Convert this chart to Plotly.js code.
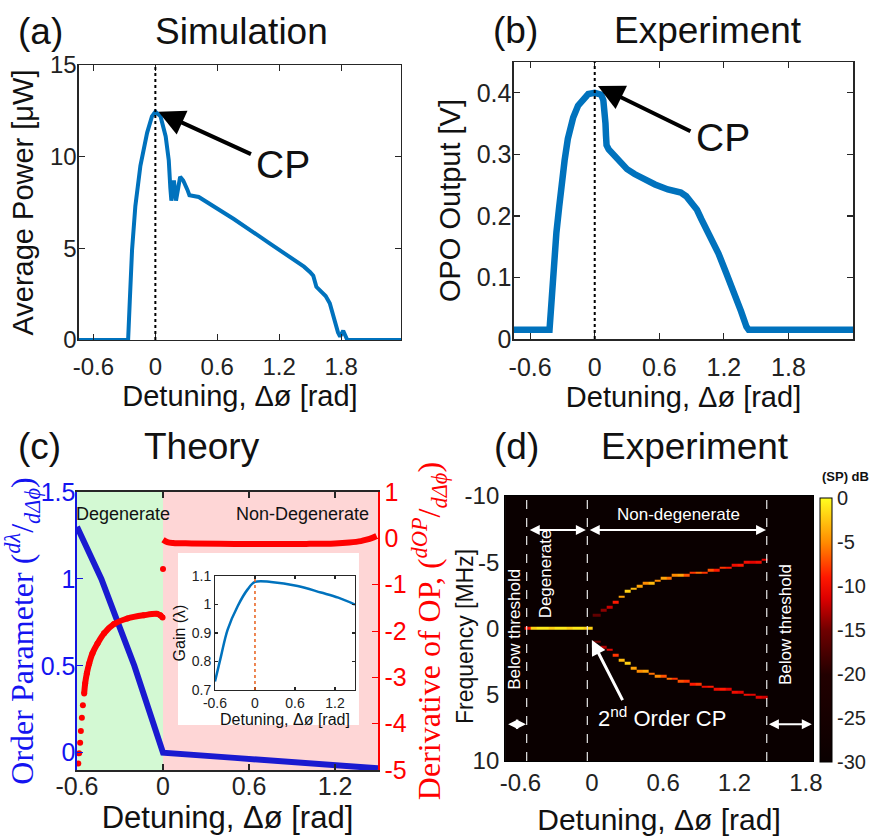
<!DOCTYPE html>
<html>
<head>
<meta charset="utf-8">
<script src="https://cdn.plot.ly/plotly-3.0.1.min.js"></script>
<style>html,body{margin:0;padding:0;background:#fff;}#chart{width:870px;height:839px;}</style>
</head>
<body>
<div id="chart"></div>
<script>
// ---------- Panel (a) Simulation ----------
var simX = [-0.74, -0.264, -0.248, -0.226, -0.194, -0.145, -0.08, -0.033, 0.0, 0.05, 0.1, 0.13, 0.145, 0.155, 0.18, 0.2, 0.24, 0.27, 0.31, 0.33, 0.42, 0.76, 1.1, 1.44, 1.5, 1.53, 1.56, 1.65, 1.69, 1.73, 1.77, 1.79, 1.82, 1.86, 2.38];
var simY = [0, 0, 2.1, 4.9, 7.3, 9.5, 11.3, 12.2, 12.45, 12.2, 11.1, 9.8, 8.3, 7.6, 8.7, 7.6, 8.9, 8.7, 8.2, 7.9, 7.8, 6.6, 5.3, 4.0, 3.7, 3.5, 2.9, 2.4, 2.0, 1.1, 0.4, 0.18, 0.5, 0, 0];

// ---------- Panel (b) Experiment ----------
var expX = [-0.75, -0.42, -0.40, -0.38, -0.356, -0.33, -0.31, -0.28, -0.25, -0.2, -0.155, -0.1, -0.06, 0.0, 0.03, 0.06, 0.08, 0.095, 0.1, 0.105, 0.11, 0.13, 0.155, 0.2, 0.25, 0.3, 0.37, 0.45, 0.56, 0.68, 0.8, 0.85, 0.9, 0.95, 0.99, 1.07, 1.15, 1.22, 1.3, 1.36, 1.41, 1.43, 2.4];
var expY = [0.015, 0.015, 0.064, 0.12, 0.173, 0.215, 0.249, 0.29, 0.325, 0.36, 0.379, 0.392, 0.398, 0.400, 0.399, 0.397, 0.388, 0.37, 0.35, 0.33, 0.315, 0.308, 0.303, 0.293, 0.282, 0.276, 0.268, 0.26, 0.251, 0.243, 0.238, 0.232, 0.222, 0.21, 0.195, 0.168, 0.139, 0.108, 0.074, 0.045, 0.02, 0.015, 0.015];

// ---------- Panel (c) Theory ----------
var opX = [-0.6, -0.52, -0.43, -0.32, -0.2, -0.1, 0.0, 0.0, 0.5, 1.0, 1.5];
var opY = [1.30, 1.15, 1.0, 0.76, 0.5, 0.25, 0.0, 0.0, -0.03, -0.06, -0.09];
var derLeftX = [-0.591, -0.585, -0.578, -0.573, -0.566, -0.559, -0.550, -0.543, -0.531, -0.515, -0.492, -0.457, -0.411, -0.342, -0.249, -0.134, -0.042, -0.019, -0.003];
var derLeftY = [-4.86, -4.64, -4.41, -4.16, -3.87, -3.60, -3.35, -3.13, -2.91, -2.70, -2.48, -2.27, -2.05, -1.85, -1.73, -1.66, -1.63, -1.66, -1.71];
var derJumpX = [0.0];
var derJumpY = [-0.66];
var derRightX = [0.0, 0.03, 0.07, 0.2, 0.5, 0.8, 1.0, 1.2, 1.3, 1.38, 1.42, 1.46, 1.49];
var derRightY = [-0.03, -0.08, -0.10, -0.11, -0.12, -0.12, -0.12, -0.11, -0.09, -0.06, -0.03, 0.01, 0.05];
// inset: gain
var gainX = [-0.6, -0.51, -0.41, -0.26, -0.11, 0.0, 0.24, 0.64, 0.99, 1.25, 1.5];
var gainY = [0.73, 0.818, 0.912, 0.994, 1.053, 1.079, 1.079, 1.065, 1.042, 1.024, 1.0];

// ---------- Panel (d) Experiment spectrogram ----------
var degX = [-0.54, -0.49, -0.44, -0.39, -0.34, -0.29, -0.24, -0.19, -0.14, -0.09, -0.04];
var degF = [0, 0, 0, 0, 0, 0, 0, 0, 0, 0, 0];
var degI = [-10, -2, -1, -1, -2, -1, -1, -2, -1, -1, -2];
var ndX = [0.05, 0.1, 0.15, 0.2, 0.25, 0.3, 0.35, 0.4, 0.45, 0.5, 0.55, 0.6, 0.65, 0.7, 0.75, 0.8, 0.85, 0.9, 0.95, 1.0, 1.05, 1.1, 1.15, 1.2, 1.25, 1.3, 1.35, 1.4, 1.45];
var upF = [-0.9, -1.3, -1.7, -2.1, -2.5, -2.8, -3.0, -3.2, -3.35, -3.5, -3.6, -3.7, -3.8, -3.9, -3.95, -4.05, -4.15, -4.25, -4.3, -4.4, -4.5, -4.6, -4.65, -4.75, -4.85, -4.9, -5.0, -5.1, -5.2];
var upI = [-16, -14, -12, -9, -4, -2, -3, -4, -5, -3, -5, -4, -6, -5, -4, -7, -8, -6, -8, -7, -9, -8, -9, -10, -9, -10, -11, -10, -11];
var downF = [1.0, 1.3, 1.7, 2.0, 2.4, 2.7, 2.9, 3.1, 3.25, 3.4, 3.55, 3.65, 3.75, 3.85, 3.95, 4.05, 4.15, 4.25, 4.3, 4.4, 4.5, 4.6, 4.7, 4.8, 4.85, 4.95, 5.0, 5.1, 5.2];
var downI = [-15, -13, -11, -8, -3, -2, -4, -5, -4, -6, -5, -7, -6, -8, -7, -8, -9, -8, -10, -9, -10, -9, -11, -10, -11, -10, -11, -11, -12];

// ticks
var detTicks = [-0.6, 0, 0.6, 1.2, 1.8];
var detTickText = ['-0.6', '0', '0.6', '1.2', '1.8'];
var simYTicks = [0, 5, 10, 15];
var expYTicks = [0, 0.1, 0.2, 0.3, 0.4];
var opTicks = [0, 0.5, 1, 1.5];
var derTicks = [1, 0, -1, -2, -3, -4, -5];
var gainTicks = [0.7, 0.8, 0.9, 1, 1.1];
var freqTicks = [-10, -5, 0, 5, 10];
var cbTicks = [0, -5, -10, -15, -20, -25, -30];

// ---------- build heatmap table ----------
var hmX = degX.concat(ndX);
var fY0 = -10, fDy = 0.2, nRows = 101;
var hmZ = [];
for (var r = 0; r < nRows; r++) { var row = []; for (var c = 0; c < hmX.length; c++) row.push(null); hmZ.push(row); }
function putCell(col, f, v) { var r = Math.round((f - fY0) / fDy); if (r >= 0 && r < nRows) hmZ[r][col] = v; }
degX.forEach(function (x, i) { putCell(i, degF[i], degI[i]); });
ndX.forEach(function (x, i) { putCell(degX.length + i, upF[i], upI[i]); putCell(degX.length + i, downF[i], downI[i]); });

var FONT = 'Liberation Sans, Arial, Helvetica, sans-serif';
var SERIF = 'Liberation Serif, Times New Roman, serif';
var BLUE = '#0072BD';
var AX = '#262626';

var traces = [
  {x: simX, y: simY, xaxis: 'x', yaxis: 'y', mode: 'lines', line: {color: BLUE, width: 4}, hoverinfo: 'skip'},
  {x: expX, y: expY, xaxis: 'x2', yaxis: 'y2', mode: 'lines', line: {color: BLUE, width: 6.5}, hoverinfo: 'skip'},
  {x: opX, y: opY, xaxis: 'x3', yaxis: 'y3', mode: 'lines', line: {color: '#1a1ad0', width: 6}, hoverinfo: 'skip'},
  {x: derLeftX, y: derLeftY, xaxis: 'x3', yaxis: 'y4', mode: 'markers', marker: {color: '#ff0000', size: 6}, hoverinfo: 'skip'},
  {x: derLeftX.slice(6), y: derLeftY.slice(6), xaxis: 'x3', yaxis: 'y4', mode: 'lines', line: {color: '#ff0000', width: 6, shape: 'spline'}, hoverinfo: 'skip'},
  {x: derJumpX, y: derJumpY, xaxis: 'x3', yaxis: 'y4', mode: 'markers', marker: {color: '#ff0000', size: 6}, hoverinfo: 'skip'},
  {x: derRightX, y: derRightY, xaxis: 'x3', yaxis: 'y4', mode: 'lines', line: {color: '#ff0000', width: 6, shape: 'spline'}, hoverinfo: 'skip'},
  {x: gainX, y: gainY, xaxis: 'x5', yaxis: 'y5', mode: 'lines', line: {color: BLUE, width: 2.5, shape: 'spline'}, hoverinfo: 'skip'},
  {type: 'heatmap', x: hmX, y0: fY0, dy: fDy, z: hmZ, xaxis: 'x6', yaxis: 'y6', zmin: -30, zmax: 0, zsmooth: false, hoverinfo: 'skip',
   colorscale: [[0, '#0a0000'], [0.33, '#220000'], [0.5, '#700000'], [0.62, '#dd0000'], [0.7, '#ff1800'], [0.83, '#ff8a00'], [1, '#ffff20']],
   colorbar: {x: 0.9425, xanchor: 'left', y: 0.2497, yanchor: 'middle', len: 0.3147, lenmode: 'fraction', thickness: 12, xpad: 0, ypad: 0,
     outlinewidth: 1, outlinecolor: '#000', tickvals: cbTicks, ticktext: cbTicks.map(String), ticks: '', tickfont: {size: 20, family: FONT, color: '#222'}}}
];

function frameAxis(o) {
  var base = {showline: true, linecolor: AX, linewidth: 1.5, mirror: 'ticks', ticks: 'inside', ticklen: 6, tickcolor: AX, tickwidth: 1.2,
    showgrid: false, zeroline: false, tickfont: {size: 24, family: FONT, color: '#222'}};
  for (var k in o) base[k] = o[k];
  return base;
}
var detTitle = 'Detuning, \u0394\u00f8 [rad]';

var layout = {
  width: 870, height: 839, margin: {l: 0, r: 0, t: 0, b: 0, autoexpand: false}, paper_bgcolor: '#fff', plot_bgcolor: 'rgba(0,0,0,0)',
  showlegend: false, font: {family: FONT, color: '#111'},
  xaxis: frameAxis({domain: [0.0908, 0.4609], anchor: 'y', range: [-0.74, 2.38], tickvals: detTicks, ticktext: detTickText, ticklabelstandoff: 5,
    title: {text: detTitle, font: {size: 29, family: FONT}, standoff: 0}}),
  yaxis: frameAxis({domain: [0.5948, 0.9225], anchor: 'x', range: [0, 15], tickvals: simYTicks, ticklabelstandoff: -4,
    title: {text: 'Average Power [\u03bcW]', font: {size: 29, family: FONT}, standoff: 8}}),
  xaxis2: frameAxis({domain: [0.5908, 0.9805], anchor: 'y2', range: [-0.75, 2.4], tickvals: detTicks, ticktext: detTickText, ticklabelstandoff: 5, tickfont: {size: 25, family: FONT, color: '#222'},
    title: {text: detTitle, font: {size: 29, family: FONT}, standoff: 0}}),
  yaxis2: frameAxis({domain: [0.5959, 0.9261], anchor: 'x2', range: [0, 0.45], tickvals: expYTicks, ticktext: ['0', '0.1', '0.2', '0.3', '0.4'], ticklabelstandoff: -4, tickfont: {size: 25, family: FONT, color: '#222'},
    title: {text: 'OPO Output [V]', font: {size: 29, family: FONT}, standoff: 7}}),
  xaxis3: frameAxis({domain: [0.0885, 0.4345], anchor: 'y3', range: [-0.6, 1.5], tickvals: [-0.6, 0, 0.6, 1.2], ticktext: ['-0.6', '0', '0.6', '1.2'], ticklabelstandoff: -7,
    tickfont: {size: 25, family: FONT, color: '#222'}, title: {text: detTitle, font: {size: 31, family: FONT}, standoff: 0}}),
  yaxis3: {domain: [0.0822, 0.4136], anchor: 'x3', range: [-0.1, 1.5], tickvals: opTicks, ticktext: ['0', '0.5', '1', '1.5'], ticklabelstandoff: -5,
    showline: true, linecolor: '#1414e0', linewidth: 1.5, mirror: false, ticks: 'inside', ticklen: 6, tickcolor: '#1414e0',
    showgrid: false, zeroline: false, tickfont: {size: 25, family: FONT, color: '#1414f0'},
    title: {text: 'Order Parameter (<sup><i>d\u03bb</i></sup>/<sub><i>d\u0394\u03d5</i></sub>)', font: {size: 32, family: SERIF, color: '#1414f0'}, standoff: 12}},
  yaxis4: {overlaying: 'y3', side: 'right', anchor: 'x3', range: [-5, 1], tickvals: derTicks, ticktext: derTicks.map(String),
    showline: true, linecolor: '#ff0000', linewidth: 1.5, ticks: 'inside', ticklen: 6, tickcolor: '#ff0000',
    showgrid: false, zeroline: false, tickfont: {size: 25, family: FONT, color: '#ff0000'},
    title: {text: 'Derivative of OP, (<sup><i>dOP</i></sup>/<sub><i>d\u0394\u03d5</i></sub>)', font: {size: 32, family: SERIF, color: '#ff0000'}, standoff: 4}},
  xaxis5: frameAxis({domain: [0.2471, 0.4080], anchor: 'y5', range: [-0.6, 1.5], tickvals: [-0.6, 0, 0.6, 1.2], ticktext: ['-0.6', '0', '0.6', '1.2'],
    linewidth: 1, ticklen: 3, tickfont: {size: 14, family: FONT, color: '#222'}, title: {text: detTitle, font: {size: 16, family: FONT}, standoff: 2}}),
  yaxis5: frameAxis({domain: [0.1776, 0.3135], anchor: 'x5', range: [0.7, 1.1], tickvals: gainTicks, ticktext: ['0.7', '0.8', '0.9', '1', '1.1'],
    linewidth: 1, ticklen: 3, tickfont: {size: 14, family: FONT, color: '#222'}, title: {text: 'Gain (\u03bb)', font: {size: 16, family: FONT}, standoff: 2}}),
  xaxis6: {domain: [0.5805, 0.9345], anchor: 'y6', range: [-0.73, 1.86], tickvals: detTicks, ticktext: detTickText,
    showline: true, linecolor: '#000', mirror: true, ticks: '', ticklen: 0, showgrid: false, zeroline: false, tickfont: {size: 24, family: FONT, color: '#222'},
    title: {text: detTitle, font: {size: 30, family: FONT}, standoff: 14}},
  yaxis6: {domain: [0.0930, 0.4088], anchor: 'x6', range: [10, -10], tickvals: freqTicks, ticktext: freqTicks.map(String),
    showline: true, linecolor: '#000', mirror: true, ticks: '', ticklen: 0, showgrid: false, zeroline: false, tickfont: {size: 24, family: FONT, color: '#222'}},
  shapes: [
    {type: 'line', xref: 'x', yref: 'y', x0: 0, x1: 0, y0: 0, y1: 15, line: {color: '#000', width: 2, dash: 'dot'}},
    {type: 'line', xref: 'x2', yref: 'y2', x0: 0, x1: 0, y0: 0, y1: 0.45, line: {color: '#000', width: 2, dash: 'dot'}},
    {type: 'rect', xref: 'x3', yref: 'paper', x0: -0.6, x1: 0, y0: 0.0822, y1: 0.4136, fillcolor: '#d3f9d3', line: {width: 0}, layer: 'below'},
    {type: 'rect', xref: 'x3', yref: 'paper', x0: 0, x1: 1.5, y0: 0.0822, y1: 0.4136, fillcolor: '#fed6d6', line: {width: 0}, layer: 'below'},
    {type: 'rect', xref: 'paper', yref: 'paper', x0: 0.2046, x1: 0.4126, y0: 0.1359, y1: 0.3409, fillcolor: '#ffffff', line: {width: 0}, layer: 'below'},
    {type: 'line', xref: 'x5', yref: 'y5', x0: 0, x1: 0, y0: 0.7, y1: 1.1, line: {color: '#e8601c', width: 1.5, dash: 'dot'}},
    {type: 'rect', xref: 'paper', yref: 'paper', x0: 0.5805, x1: 0.9345, y0: 0.0930, y1: 0.4088, fillcolor: '#0a0000', line: {width: 0}, layer: 'below'},
    {type: 'line', xref: 'x6', yref: 'paper', x0: -0.548, x1: -0.548, y0: 0.093, y1: 0.4088, line: {color: '#e8e8e8', width: 1.2, dash: 'dash'}},
    {type: 'line', xref: 'x6', yref: 'paper', x0: -0.038, x1: -0.038, y0: 0.093, y1: 0.4088, line: {color: '#e8e8e8', width: 1.2, dash: 'dash'}},
    {type: 'line', xref: 'x6', yref: 'paper', x0: 1.471, x1: 1.471, y0: 0.093, y1: 0.4088, line: {color: '#e8e8e8', width: 1.2, dash: 'dash'}}
  ],
  annotations: [
    {text: '(a)', xref: 'paper', yref: 'paper', x: 0.046, y: 0.962, xanchor: 'center', yanchor: 'middle', showarrow: false, font: {size: 37, family: FONT, color: '#111'}},
    {text: 'Simulation', xref: 'paper', yref: 'paper', x: 0.278, y: 0.962, xanchor: 'center', yanchor: 'middle', showarrow: false, font: {size: 37, family: FONT, color: '#111'}},
    {text: '(b)', xref: 'paper', yref: 'paper', x: 0.593, y: 0.964, xanchor: 'center', yanchor: 'middle', showarrow: false, font: {size: 37, family: FONT, color: '#111'}},
    {text: 'Experiment', xref: 'paper', yref: 'paper', x: 0.814, y: 0.964, xanchor: 'center', yanchor: 'middle', showarrow: false, font: {size: 37, family: FONT, color: '#111'}},
    {text: '(c)', xref: 'paper', yref: 'paper', x: 0.045, y: 0.468, xanchor: 'center', yanchor: 'middle', showarrow: false, font: {size: 37, family: FONT, color: '#111'}},
    {text: 'Theory', xref: 'paper', yref: 'paper', x: 0.232, y: 0.468, xanchor: 'center', yanchor: 'middle', showarrow: false, font: {size: 37, family: FONT, color: '#111'}},
    {text: '(d)', xref: 'paper', yref: 'paper', x: 0.594, y: 0.468, xanchor: 'center', yanchor: 'middle', showarrow: false, font: {size: 37, family: FONT, color: '#111'}},
    {text: 'Experiment', xref: 'paper', yref: 'paper', x: 0.799, y: 0.468, xanchor: 'center', yanchor: 'middle', showarrow: false, font: {size: 37, family: FONT, color: '#111'}},
    {text: '', xref: 'x', yref: 'y', x: 0.03, y: 12.45, ax: 94, ay: 43, showarrow: true, arrowhead: 2, arrowsize: 1.3, arrowwidth: 4, arrowcolor: '#000'},
    {text: 'CP', xref: 'x', yref: 'y', x: 1.24, y: 9.6, xanchor: 'center', yanchor: 'middle', showarrow: false, font: {size: 39, family: FONT, color: '#111'}},
    {text: '', xref: 'x2', yref: 'y2', x: 0.03, y: 0.411, ax: 94, ay: 46, showarrow: true, arrowhead: 2, arrowsize: 1.3, arrowwidth: 4, arrowcolor: '#000'},
    {text: 'CP', xref: 'x2', yref: 'y2', x: 1.19, y: 0.328, xanchor: 'center', yanchor: 'middle', showarrow: false, font: {size: 39, family: FONT, color: '#111'}},
    {text: 'Degenerate', xref: 'x3', yref: 'paper', x: -0.28, y: 0.3874, xanchor: 'center', yanchor: 'middle', showarrow: false, font: {size: 18, family: FONT, color: '#111'}},
    {text: 'Non-Degenerate', xref: 'x3', yref: 'paper', x: 0.97, y: 0.3874, xanchor: 'center', yanchor: 'middle', showarrow: false, font: {size: 18, family: FONT, color: '#111'}},
    {text: 'Frequency [MHz]', xref: 'paper', yref: 'paper', x: 0.5345, y: 0.2408, xanchor: 'center', yanchor: 'middle', textangle: -90, showarrow: false, font: {size: 23, family: FONT, color: '#111'}},
    {text: '<b>(SP) dB</b>', xref: 'paper', yref: 'paper', x: 0.9713, y: 0.4315, xanchor: 'center', yanchor: 'middle', showarrow: false, font: {size: 13, family: FONT, color: '#111'}},
    {text: 'Non-degenerate', xref: 'x6', yref: 'y6', x: 0.725, y: -8.64, xanchor: 'center', yanchor: 'middle', showarrow: false, font: {size: 17, family: FONT, color: '#fff'}},
    {text: '', xref: 'x6', yref: 'y6', x: -0.05, y: -7.43, axref: 'x6', ayref: 'y6', ax: -0.535, ay: -7.43, showarrow: true, arrowside: 'end+start', arrowhead: 2, arrowsize: 1, arrowwidth: 2, arrowcolor: '#fff'},
    {text: '', xref: 'x6', yref: 'y6', x: 1.465, y: -7.43, axref: 'x6', ayref: 'y6', ax: -0.03, ay: -7.43, showarrow: true, arrowside: 'end+start', arrowhead: 2, arrowsize: 1, arrowwidth: 2, arrowcolor: '#fff'},
    {text: '', xref: 'x6', yref: 'y6', x: -0.554, y: 7.23, axref: 'x6', ayref: 'y6', ax: -0.716, ay: 7.23, showarrow: true, arrowside: 'end+start', arrowhead: 2, arrowsize: 1, arrowwidth: 2, arrowcolor: '#fff'},
    {text: '', xref: 'x6', yref: 'y6', x: 1.85, y: 7.23, axref: 'x6', ayref: 'y6', ax: 1.476, ay: 7.23, showarrow: true, arrowside: 'end+start', arrowhead: 2, arrowsize: 1, arrowwidth: 2, arrowcolor: '#fff'},
    {text: 'Degenerate', xref: 'x6', yref: 'y6', x: -0.394, y: -4.16, xanchor: 'center', yanchor: 'middle', textangle: -90, showarrow: false, font: {size: 17, family: FONT, color: '#fff'}},
    {text: 'Below threshold', xref: 'x6', yref: 'y6', x: -0.646, y: 0.1, xanchor: 'center', yanchor: 'middle', textangle: -90, showarrow: false, font: {size: 17, family: FONT, color: '#fff'}},
    {text: 'Below threshold', xref: 'x6', yref: 'y6', x: 1.625, y: -0.26, xanchor: 'center', yanchor: 'middle', textangle: -90, showarrow: false, font: {size: 17, family: FONT, color: '#fff'}},
    {text: '2<sup>nd</sup> Order CP', xref: 'x6', yref: 'y6', x: 0.588, y: 6.66, xanchor: 'center', yanchor: 'middle', showarrow: false, font: {size: 22, family: FONT, color: '#fff'}},
    {text: '', xref: 'x6', yref: 'y6', x: 0.0, y: 0.87, axref: 'x6', ayref: 'y6', ax: 0.265, ay: 5.52, showarrow: true, arrowhead: 2, arrowsize: 1, arrowwidth: 3, arrowcolor: '#fff'}
  ]
};

Plotly.newPlot('chart', traces, layout, {displayModeBar: false, staticPlot: true});
</script>
</body>
</html>
